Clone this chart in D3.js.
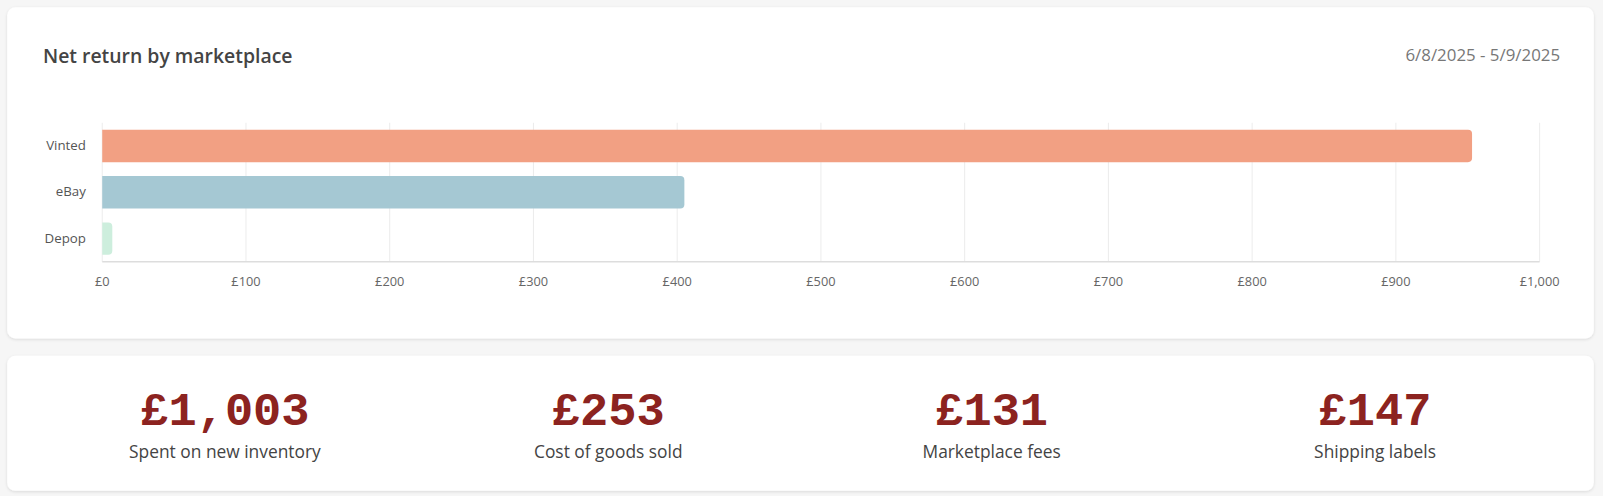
<!DOCTYPE html><html><head><meta charset="utf-8">
<script src="https://cdn.jsdelivr.net/npm/d3@7"></script>
<style>html,body{margin:0;overflow:hidden;background:#f6f6f6;font-family:"Open Sans",Lato,sans-serif}svg{display:block}</style></head><body>
<svg id="c" width="1603" height="496" viewBox="0 0 1568 485"></svg>
<script>
const categories=["Vinted","eBay","Depop"];
const values=[953,405,7];
const colors=["#f2a083","#a5c8d3","#cdeedd"];
const ticks=[0,100,200,300,400,500,600,700,800,900,1000];
const statValues=["£1,003","£253","£131","£147"];
const statLabels=["Spent on new inventory","Cost of goods sold","Marketplace fees","Shipping labels"];

const svg=d3.select("#c");
const defs=svg.append("defs");
const f=defs.append("filter").attr("id","sh").attr("x","-5%").attr("y","-10%").attr("width","110%").attr("height","130%");
f.append("feDropShadow").attr("dx",0).attr("dy",1).attr("stdDeviation",1.5).attr("flood-color","#000").attr("flood-opacity",0.12);
svg.append("rect").attr("x",7).attr("y",7).attr("width",1552).attr("height",324).attr("rx",8).attr("fill","#fff").attr("filter","url(#sh)");
svg.append("rect").attr("x",7).attr("y",348).attr("width",1552).attr("height",132).attr("rx",8).attr("fill","#fff").attr("filter","url(#sh)");
svg.append("text").attr("x",42).attr("y",62).attr("font-size",19).attr("font-weight",600).attr("fill","#444").text("Net return by marketplace");
svg.append("text").attr("x",1526).attr("y",60).attr("text-anchor","end").attr("font-size",16.5).attr("fill","#777").text("6/8/2025 - 5/9/2025");

const x=d3.scaleLinear().domain([0,1000]).range([100,1506]);
const y=d3.scaleBand().domain(categories).range([120,256]).paddingInner(0.3).paddingOuter(0.15);
const g=svg.append("g");
g.selectAll(".grid").data(ticks).join("line").attr("x1",d=>x(d)).attr("x2",d=>x(d)).attr("y1",120).attr("y2",256).attr("stroke","#ececec");
g.append("line").attr("x1",100).attr("x2",1506).attr("y1",256).attr("y2",256).attr("stroke","#ddd").attr("stroke-width",1.5);
g.selectAll(".bar").data(values).join("path").attr("fill",(d,i)=>colors[i])
 .attr("d",(d,i)=>{const x0=x(0),x1=x(d),y0=y(categories[i]),h=y.bandwidth(),r=Math.min(4,(x1-x0)/2);
  return `M${x0},${y0}H${x1-r}Q${x1},${y0} ${x1},${y0+r}V${y0+h-r}Q${x1},${y0+h} ${x1-r},${y0+h}H${x0}Z`;});
g.selectAll(".cl").data(categories).join("text").attr("x",84).attr("y",d=>y(d)+y.bandwidth()/2+4).attr("text-anchor","end").attr("font-size",13).attr("fill","#555").text(d=>d);
const fmt=d3.format(",");
g.selectAll(".tl").data(ticks).join("text").attr("x",d=>x(d)).attr("y",280).attr("text-anchor","middle").attr("font-size",12.5).attr("fill","#666").text(d=>"£"+fmt(d));

const sx=d3.scalePoint().domain(statLabels).range([220,1345]);
svg.selectAll(".sv").data(statValues).join("text").attr("x",(d,i)=>sx(statLabels[i])).attr("y",416).attr("text-anchor","middle")
 .attr("font-family","'Liberation Mono','DejaVu Sans Mono',monospace").attr("font-weight",700).attr("font-size",46).attr("fill","#8c2320").text(d=>d);
svg.selectAll(".sl").data(statLabels).join("text").attr("x",d=>sx(d)).attr("y",448).attr("text-anchor","middle").attr("font-size",17).attr("fill","#444").text(d=>d);
</script></body></html>
